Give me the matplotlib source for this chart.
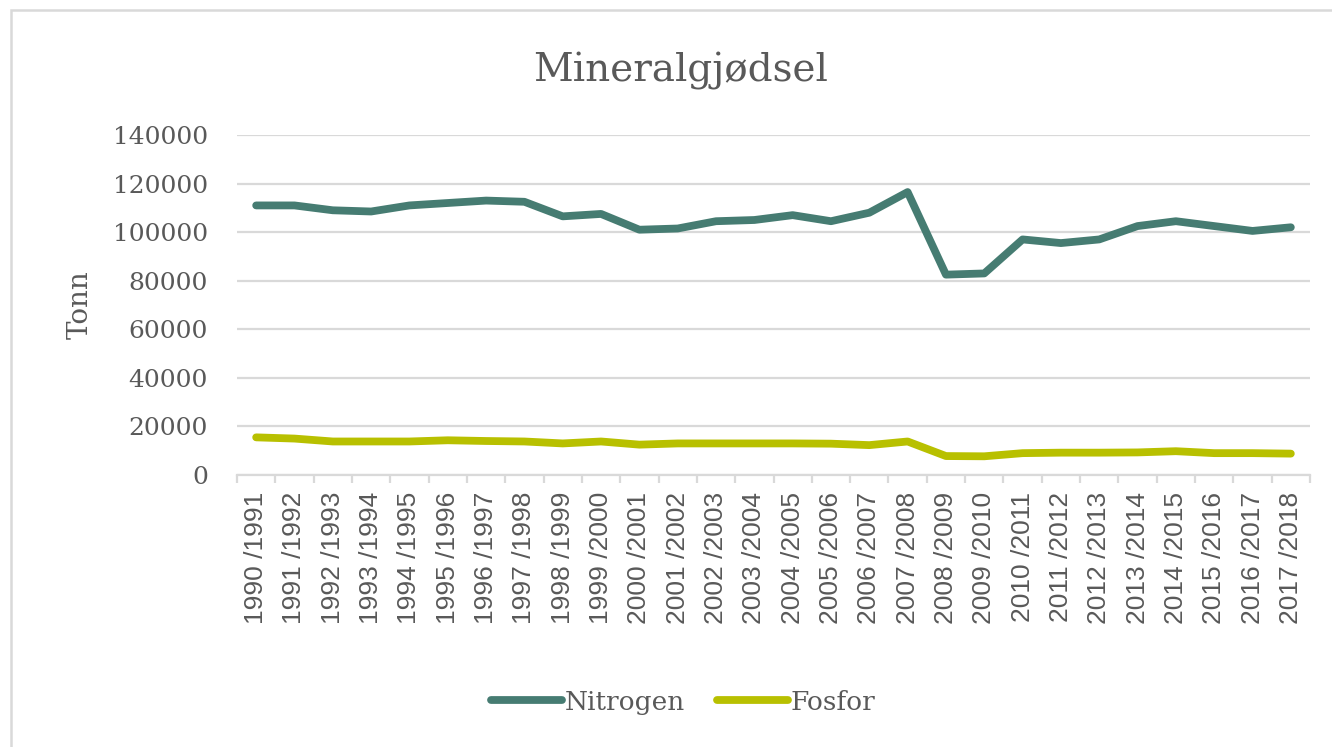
import matplotlib.pyplot as plt
from matplotlib.patches import Rectangle
from matplotlib.ticker import MultipleLocator
import numpy as np

# Season labels (the source draws a small gap before the slash)
seasons = [f"{y} /{y + 1}" for y in range(1990, 2018)]

# Values (tonnes)
nitrogen = [111000, 111000, 109000, 108500, 111000, 112000, 113000, 112500,
            106500, 107500, 101000, 101500, 104500, 105000, 107000, 104500,
            108000, 116500, 82500, 83000, 97000, 95500, 97000, 102500,
            104500, 102500, 100500, 102000]
fosfor = [15500, 15000, 13800, 13800, 13800, 14300, 14000, 13800,
          13000, 13800, 12500, 13000, 13000, 13000, 13000, 12900,
          12300, 13800, 7800, 7700, 9000, 9200, 9200, 9300,
          9800, 9000, 9000, 8800]

text_col = '#595959'
grid_col = '#D9D9D9'
serif = 'DejaVu Serif'

fig = plt.figure(figsize=(13.32, 7.47), dpi=100)
ax = fig.add_axes([237 / 1332, 1 - 475 / 747, (1310 - 237) / 1332, (475 - 135) / 747])

x = np.arange(len(seasons))
ax.plot(x, nitrogen, color='#467C72', linewidth=5.6, solid_capstyle='round',
        solid_joinstyle='round', label='Nitrogen')
ax.plot(x, fosfor, color='#B8C000', linewidth=5.6, solid_capstyle='round',
        solid_joinstyle='round', label='Fosfor')

ax.set_xlim(-0.5, len(seasons) - 0.5)
ax.set_ylim(0, 140000)
ax.yaxis.set_major_locator(MultipleLocator(20000))
ax.grid(axis='y', color=grid_col, linewidth=1.6)
ax.set_axisbelow(True)

for side in ['top', 'right', 'left']:
    ax.spines[side].set_visible(False)
ax.spines['bottom'].set_color(grid_col)
ax.spines['bottom'].set_linewidth(1.6)

# labels centred on categories, tick marks on boundaries
ax.set_xticks(x)
ax.set_xticklabels(seasons, rotation=90, family='Liberation Sans', fontsize=19,
                   color=text_col)
ax.set_xticks(np.arange(-0.5, len(seasons)), minor=True)
ax.tick_params(axis='x', which='major', length=0, pad=12)
ax.tick_params(axis='x', which='minor', length=6, width=1.6, color=grid_col)
ax.tick_params(axis='y', length=0, pad=21)
for lab in ax.get_yticklabels():
    lab.set_family(serif)
    lab.set_fontsize(18)
    lab.set_color(text_col)

ax.set_ylabel('Tonn', family=serif, fontsize=20, color=text_col, labelpad=14)

fig.text(0.511, 0.905, 'Mineralgjødsel', family=serif, fontsize=28,
         color=text_col, ha='center', va='center')

leg = fig.legend(loc='center', bbox_to_anchor=(0.513, 0.06), ncol=2,
                 frameon=False, handlelength=2.7, handletextpad=0.1,
                 columnspacing=1.2, prop={'family': serif, 'size': 19})
for t in leg.get_texts():
    t.set_color(text_col)

# chart border
fig.patches.append(Rectangle((11 / 1332, -0.05), 1.1, 1 - 10 / 747 + 0.05,
                             transform=fig.transFigure, fill=False,
                             edgecolor=grid_col, linewidth=1.8))

fig.savefig('out.png', dpi=100)
